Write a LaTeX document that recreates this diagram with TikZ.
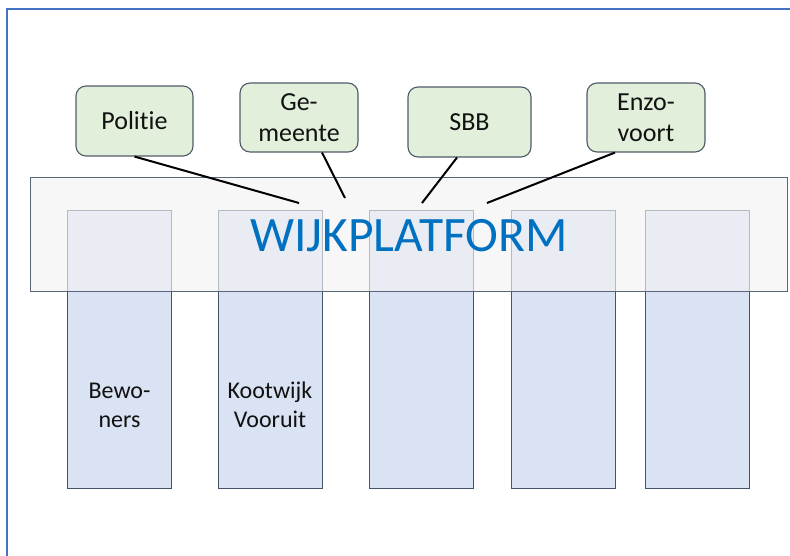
\documentclass[tikz,border=0pt]{standalone}
\usepackage{fontspec}
\setmainfont{Carlito}[Ligatures=NoCommon]
\usetikzlibrary{calc}
\definecolor{frameblue}{HTML}{4472C4}
\definecolor{colfill}{HTML}{DAE3F3}
\definecolor{coledge}{HTML}{44546A}
\definecolor{boxfill}{HTML}{E2EFDA}
\definecolor{boxedge}{HTML}{505A68}
\definecolor{platfill}{HTML}{F2F2F2}
\definecolor{platedge}{HTML}{5A6577}
\definecolor{titleblue}{HTML}{0070C0}
\definecolor{txt}{HTML}{111111}
\begin{document}
\begin{tikzpicture}[x=1pt,y=-1pt,
  column/.style={draw=coledge, line width=1pt, fill=colfill, minimum width=104pt, minimum height=278pt, inner sep=0pt},
  coltext/.style={text=txt, align=center, font=\fontsize{24}{29}\selectfont, inner sep=0pt},
  platform/.style={draw=platedge, line width=1pt, fill=platfill, fill opacity=0.65, minimum width=757pt, minimum height=114pt, inner sep=0pt},
  partner/.style={draw=boxedge, line width=1.1pt, fill=boxfill, rounded corners=10pt, minimum width=118pt, minimum height=69pt, inner sep=0pt, text=txt, align=center, font=\fontsize{26}{31}\selectfont},
  link/.style={black, line width=2pt}]
\useasboundingbox (0,0) rectangle (790,555);
\clip (0,0) rectangle (790,555);
\draw[frameblue, line width=2.6pt] (7,9) rectangle (830,600);
% columns
\node[column] (c1) at (119,349) {};
\node[column] (c2) at (270,349) {};
\node[column] (c3) at (421.5,349) {};
\node[column] (c4) at (563.5,349) {};
\node[column] (c5) at (697.5,349) {};
\node[coltext] (t1) at (119.5,405) {Bewo-\\ners};
\node[coltext] (t2) at (270,405) {Kootwijk\\Vooruit};
% platform
\node[platform] (plat) at (408.5,234) {};
\node[text=titleblue, font=\fontsize{49.5}{58}\selectfont, inner sep=0pt, anchor=base] (title) at (409,251) {WIJKPLATFORM};
% partner boxes
\node[partner, minimum width=117pt, minimum height=70pt] (pol) at (134.5,121) {Politie};
\node[partner] (gem) at (299,117.5) {Ge-\\meente};
\node[partner, minimum width=123pt, minimum height=70pt] (sbb) at (469.5,122) {SBB};
\node[partner] (enzo) at (646,117.5) {Enzo-\\voort};
% connector ends
\coordinate (e1) at (299,203);
\coordinate (e2) at (345,198);
\coordinate (e3) at (422,203);
\coordinate (e4) at (487,203);
\draw[link] (pol.south) -- (e1);
\draw[link] ($(gem.south)+(23,0)$) -- (e2);
\draw[link] ($(sbb.south)+(-12.5,0)$) -- (e3);
\draw[link] ($(enzo.south)+(-31,0)$) -- (e4);
\end{tikzpicture}
\end{document}
